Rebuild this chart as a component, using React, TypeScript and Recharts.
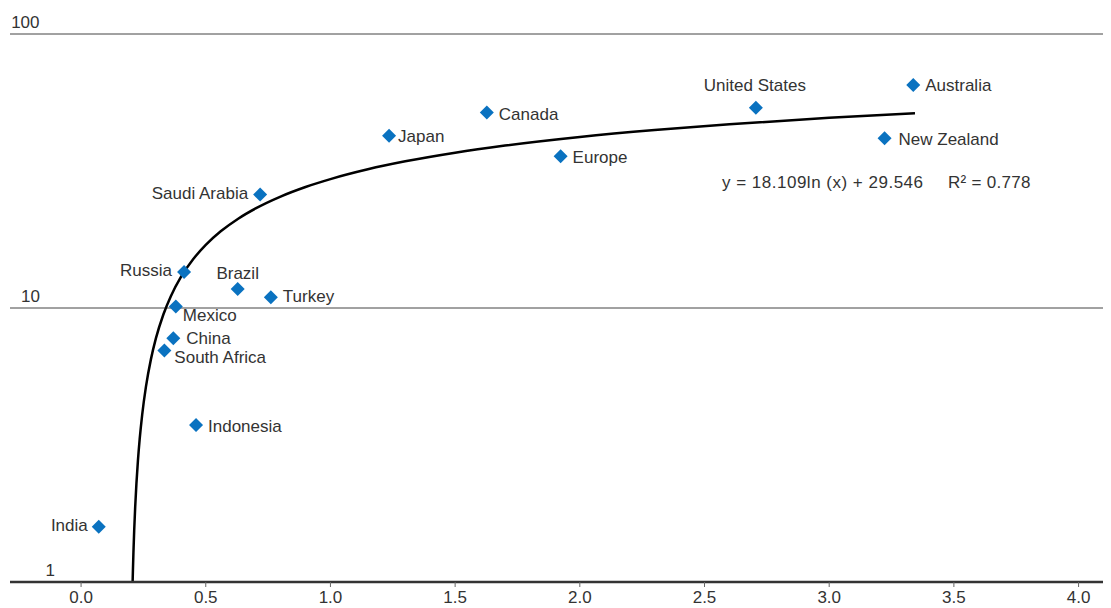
import React from "react";
import {
  ComposedChart,
  Scatter,
  Line,
  XAxis,
  YAxis,
  CartesianGrid,
} from "recharts";

// ---- data ----
const countries = [
  "India",
  "Indonesia",
  "South Africa",
  "China",
  "Mexico",
  "Russia",
  "Brazil",
  "Turkey",
  "Saudi Arabia",
  "Japan",
  "Canada",
  "Europe",
  "United States",
  "Australia",
  "New Zealand",
];
const xValues = [0.071, 0.461, 0.334, 0.37, 0.38, 0.413, 0.628, 0.761, 0.718, 1.235, 1.627, 1.923, 2.706, 3.337, 3.222];
const yValues = [1.59, 3.74, 6.99, 7.76, 10.13, 13.52, 11.72, 10.95, 25.94, 42.5, 51.7, 35.8, 53.8, 65.1, 41.6];

// trend line y = a ln(x) + b (as printed on the chart)
const trendA = 18.109;
const trendB = 29.546;
const trendR2 = 0.778;
const trendXs = [
  0.2067, 0.208, 0.21, 0.213, 0.217, 0.222, 0.228, 0.235, 0.245, 0.26, 0.28, 0.3, 0.33, 0.36, 0.4, 0.45,
  0.5, 0.56, 0.63, 0.7, 0.8, 0.9, 1.0, 1.15, 1.3, 1.5, 1.7, 2.0, 2.3, 2.6, 3.0, 3.344,
];

const xTicks = [0, 0.5, 1, 1.5, 2, 2.5, 3, 3.5, 4];
const yTicks = [1, 10, 100];

// ---- layout / style ----
const FONT = "'Liberation Sans', Arial, sans-serif";
const TEXT = "#333";
const BLUE = "#0a72c0";

type Place = { anchor: "start" | "end" | "middle"; dx: number; dy: number };
const labelPlace: Record<string, Place> = {
  India: { anchor: "end", dx: -11, dy: 4 },
  Indonesia: { anchor: "start", dx: 12, dy: 7 },
  "South Africa": { anchor: "start", dx: 10, dy: 12 },
  China: { anchor: "start", dx: 13, dy: 6 },
  Mexico: { anchor: "start", dx: 7, dy: 15 },
  Russia: { anchor: "end", dx: -12, dy: 4 },
  Brazil: { anchor: "middle", dx: 0, dy: -10 },
  Turkey: { anchor: "start", dx: 12, dy: 5 },
  "Saudi Arabia": { anchor: "end", dx: -12, dy: 4 },
  Japan: { anchor: "start", dx: 9, dy: 6 },
  Canada: { anchor: "start", dx: 12, dy: 7 },
  Europe: { anchor: "start", dx: 12, dy: 6.5 },
  "United States": { anchor: "middle", dx: -1, dy: -17 },
  Australia: { anchor: "start", dx: 12, dy: 6 },
  "New Zealand": { anchor: "start", dx: 14, dy: 7 },
};
const yTickLabelEnd: Record<number, number> = { 1: 47, 10: 32, 100: 31.5 };

const points = countries.map((name, i) => ({ name, x: xValues[i], y: yValues[i] }));
const trend = trendXs.map((x) => ({ x, y: Math.max(1, trendA * Math.log(x) + trendB) }));

const Diamond = (props: any) => {
  const { cx, cy, payload } = props;
  if (cx == null || cy == null) return null;
  const r = 7;
  const p = labelPlace[payload.name];
  return (
    <g>
      <polygon
        points={`${cx},${cy - r} ${cx + r},${cy} ${cx},${cy + r} ${cx - r},${cy}`}
        fill={BLUE}
      />
      <text
        x={cx + p.dx}
        y={cy + p.dy}
        textAnchor={p.anchor}
        fontSize={17}
        fontFamily={FONT}
        fill={TEXT}
      >
        {payload.name}
      </text>
    </g>
  );
};

const YTick = (props: any) => {
  const { y, payload } = props;
  const v = payload.value;
  return (
    <text
      x={yTickLabelEnd[v] ?? 32}
      y={y - 6.5}
      textAnchor="end"
      fontSize={17}
      fontFamily={FONT}
      fill={TEXT}
    >
      {String(v)}
    </text>
  );
};

const XTick = (props: any) => {
  const { x, payload } = props;
  return (
    <text x={x} y={595} textAnchor="middle" fontSize={17} fontFamily={FONT} fill={TEXT}>
      {Number(payload.value).toFixed(1)}
    </text>
  );
};

export default function App() {
  return (
    <div style={{ position: "relative", width: 1103, height: 600 }}>
      <ComposedChart
        width={1103}
        height={600}
        margin={{ top: 26, right: 4, bottom: 0, left: 1 }}
      >
        <CartesianGrid vertical={false} stroke="#444" strokeWidth={1} />
        <XAxis
          type="number"
          dataKey="x"
          domain={[-0.285, 4.114]}
          ticks={xTicks}
          interval={0}
          allowDataOverflow
          height={26}
          tickSize={5}
          tickLine={{ stroke: "#666", strokeWidth: 1 }}
          axisLine={{ stroke: "#333", strokeWidth: 2.5 }}
          tick={<XTick />}
        />
        <YAxis
          type="number"
          dataKey="y"
          scale="log"
          domain={[1, 100]}
          ticks={yTicks}
          interval={0}
          allowDataOverflow
          width={1}
          axisLine={false}
          tickLine={false}
          tick={<YTick />}
        />
        <Line
          data={trend}
          dataKey="y"
          type="monotone"
          stroke="#000"
          strokeWidth={2.5}
          dot={false}
          activeDot={false}
          isAnimationActive={false}
        />
        <Scatter
          data={points}
          dataKey="y"
          shape={<Diamond />}
          isAnimationActive={false}
        />
      </ComposedChart>
      <svg
        width={1103}
        height={600}
        style={{ position: "absolute", left: 0, top: 0, pointerEvents: "none" }}
      >
        <text x={714} y={180} fontSize={17} letterSpacing={0.5} fontFamily={FONT} fill={TEXT}>
          {`y = ${trendA}ln (x) + ${trendB}`}
        </text>
        <text x={940} y={180} fontSize={17} letterSpacing={0.3} fontFamily={FONT} fill={TEXT}>
          {`R² = ${trendR2}`}
        </text>
      </svg>
    </div>
  );
}
